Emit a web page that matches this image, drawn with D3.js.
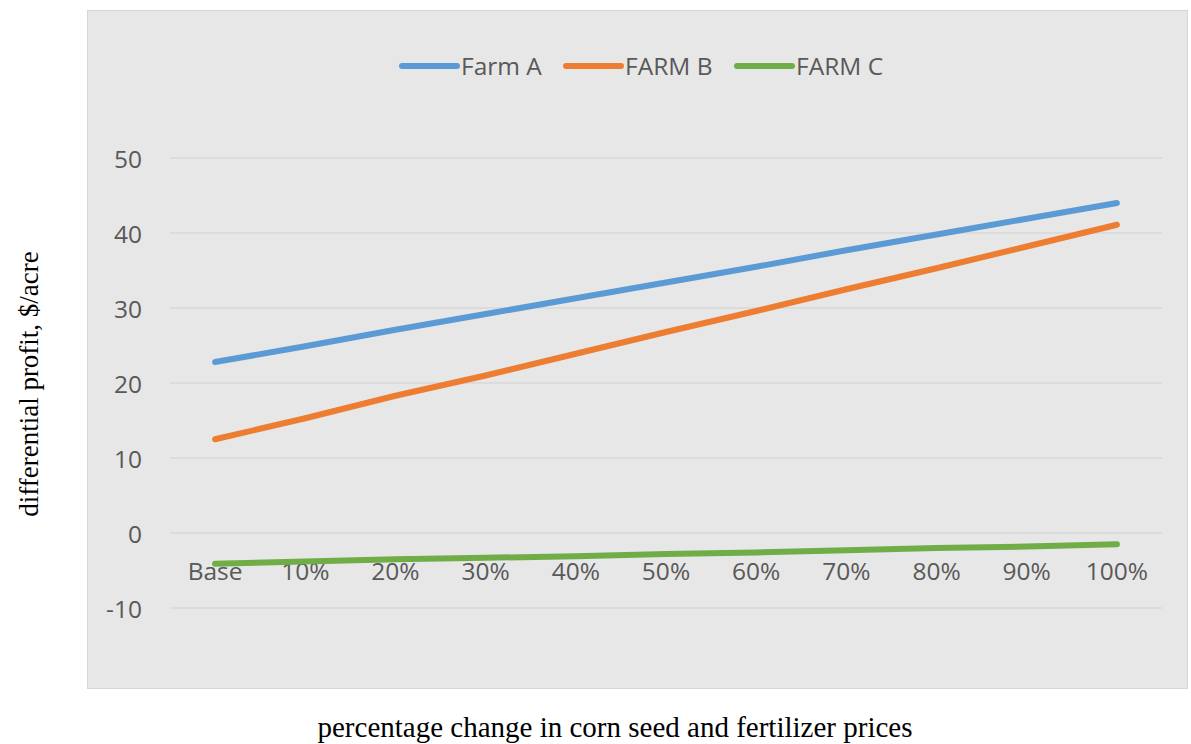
<!DOCTYPE html>
<html>
<head>
<meta charset="utf-8">
<script src="https://cdn.jsdelivr.net/npm/d3@7"></script>
<style>
  html, body { margin: 0; padding: 0; background: #ffffff; }
  svg { display: block; }
</style>
</head>
<body>
<svg id="chart" width="1191" height="744"></svg>
<script>
// Price scenarios along the horizontal axis
const categories = ["Base", "10%", "20%", "30%", "40%", "50%", "60%", "70%", "80%", "90%", "100%"];

// Differential profit ($/acre) for each farm under each scenario
const farmA = [22.8, 24.9, 27.1, 29.2, 31.3, 33.4, 35.5, 37.7, 39.8, 41.9, 44.0];
const farmB = [12.5, 15.3, 18.3, 21.0, 23.9, 26.8, 29.6, 32.5, 35.3, 38.2, 41.1];
const farmC = [-4.1, -3.8, -3.5, -3.3, -3.1, -2.8, -2.6, -2.3, -2.0, -1.8, -1.5];

const seriesNames = ["Farm A", "FARM B", "FARM C"];
const yTicks = [-10, 0, 10, 20, 30, 40, 50];

const series = [
  { name: seriesNames[0], values: farmA, color: "#5b9bd5" },
  { name: seriesNames[1], values: farmB, color: "#ed7d31" },
  { name: seriesNames[2], values: farmC, color: "#70ad47" }
];

const svg = d3.select("#chart");
const labelFont = "'Open Sans', sans-serif";
const labelColor = "#595959";
const titleFont = "'Liberation Serif', 'Times New Roman', serif";

// Chart background panel
svg.append("rect")
  .attr("x", 87.5).attr("y", 10.5)
  .attr("width", 1100).attr("height", 678)
  .attr("fill", "#e7e7e7")
  .attr("stroke", "#d6d6d6")
  .attr("stroke-width", 1);

// Scales
const x = d3.scaleBand()
  .domain(categories)
  .range([170, 1162])
  .paddingInner(0).paddingOuter(0);

const y = d3.scaleLinear()
  .domain([-10, 50])
  .range([608, 158]);

const cx = d => x(d) + x.bandwidth() / 2;

// Horizontal gridlines
svg.append("g")
  .selectAll("line")
  .data(yTicks)
  .join("line")
  .attr("x1", 170).attr("x2", 1162)
  .attr("y1", d => y(d)).attr("y2", d => y(d))
  .attr("stroke", "#d8d8d8")
  .attr("stroke-width", 1.5);

// Y axis tick labels (plain hyphen for negatives)
const yAxis = d3.axisLeft(y).tickValues(yTicks).tickSize(0).tickPadding(0).tickFormat(d => String(d));
const yg = svg.append("g").attr("transform", "translate(142,0)").call(yAxis);
yg.select(".domain").remove();
yg.selectAll("text")
  .attr("font-family", labelFont)
  .attr("font-size", "24.5px")
  .attr("fill", labelColor)
  .attr("dy", null)
  .attr("dominant-baseline", "central");

// X axis category labels, hanging below the zero line
const xAxis = d3.axisBottom(x).tickSize(0).tickPadding(0);
const xg = svg.append("g").attr("transform", `translate(0,${y(0)})`).call(xAxis);
xg.select(".domain").remove();
xg.selectAll("text")
  .attr("font-family", labelFont)
  .attr("font-size", "24.5px")
  .attr("fill", labelColor)
  .attr("dy", null)
  .attr("y", 47);

// Series lines
const line = d3.line()
  .x((d, i) => cx(categories[i]))
  .y(d => y(d));

svg.append("g")
  .selectAll("path")
  .data(series)
  .join("path")
  .attr("d", d => line(d.values))
  .attr("fill", "none")
  .attr("stroke", d => d.color)
  .attr("stroke-width", 6)
  .attr("stroke-linecap", "round")
  .attr("stroke-linejoin", "round");

// Legend
const legendX = [402, 566, 737];
const legend = svg.append("g")
  .selectAll("g")
  .data(series)
  .join("g")
  .attr("transform", (d, i) => `translate(${legendX[i]},66)`);

legend.append("line")
  .attr("x1", 0).attr("x2", 55)
  .attr("y1", 0).attr("y2", 0)
  .attr("stroke", d => d.color)
  .attr("stroke-width", 6)
  .attr("stroke-linecap", "round");

legend.append("text")
  .attr("x", 59)
  .attr("y", 9)
  .attr("font-family", labelFont)
  .attr("font-size", "24.5px")
  .attr("fill", labelColor)
  .text(d => d.name);

// Axis titles
svg.append("text")
  .attr("x", 615)
  .attr("y", 737)
  .attr("text-anchor", "middle")
  .attr("font-family", titleFont)
  .attr("font-size", "29px")
  .attr("fill", "#000000")
  .text("percentage change in corn seed and fertilizer prices");

svg.append("text")
  .attr("transform", "translate(38,384) rotate(-90)")
  .attr("text-anchor", "middle")
  .attr("font-family", titleFont)
  .attr("font-size", "27px")
  .attr("fill", "#000000")
  .text("differential profit, $/acre");
</script>
</body>
</html>
